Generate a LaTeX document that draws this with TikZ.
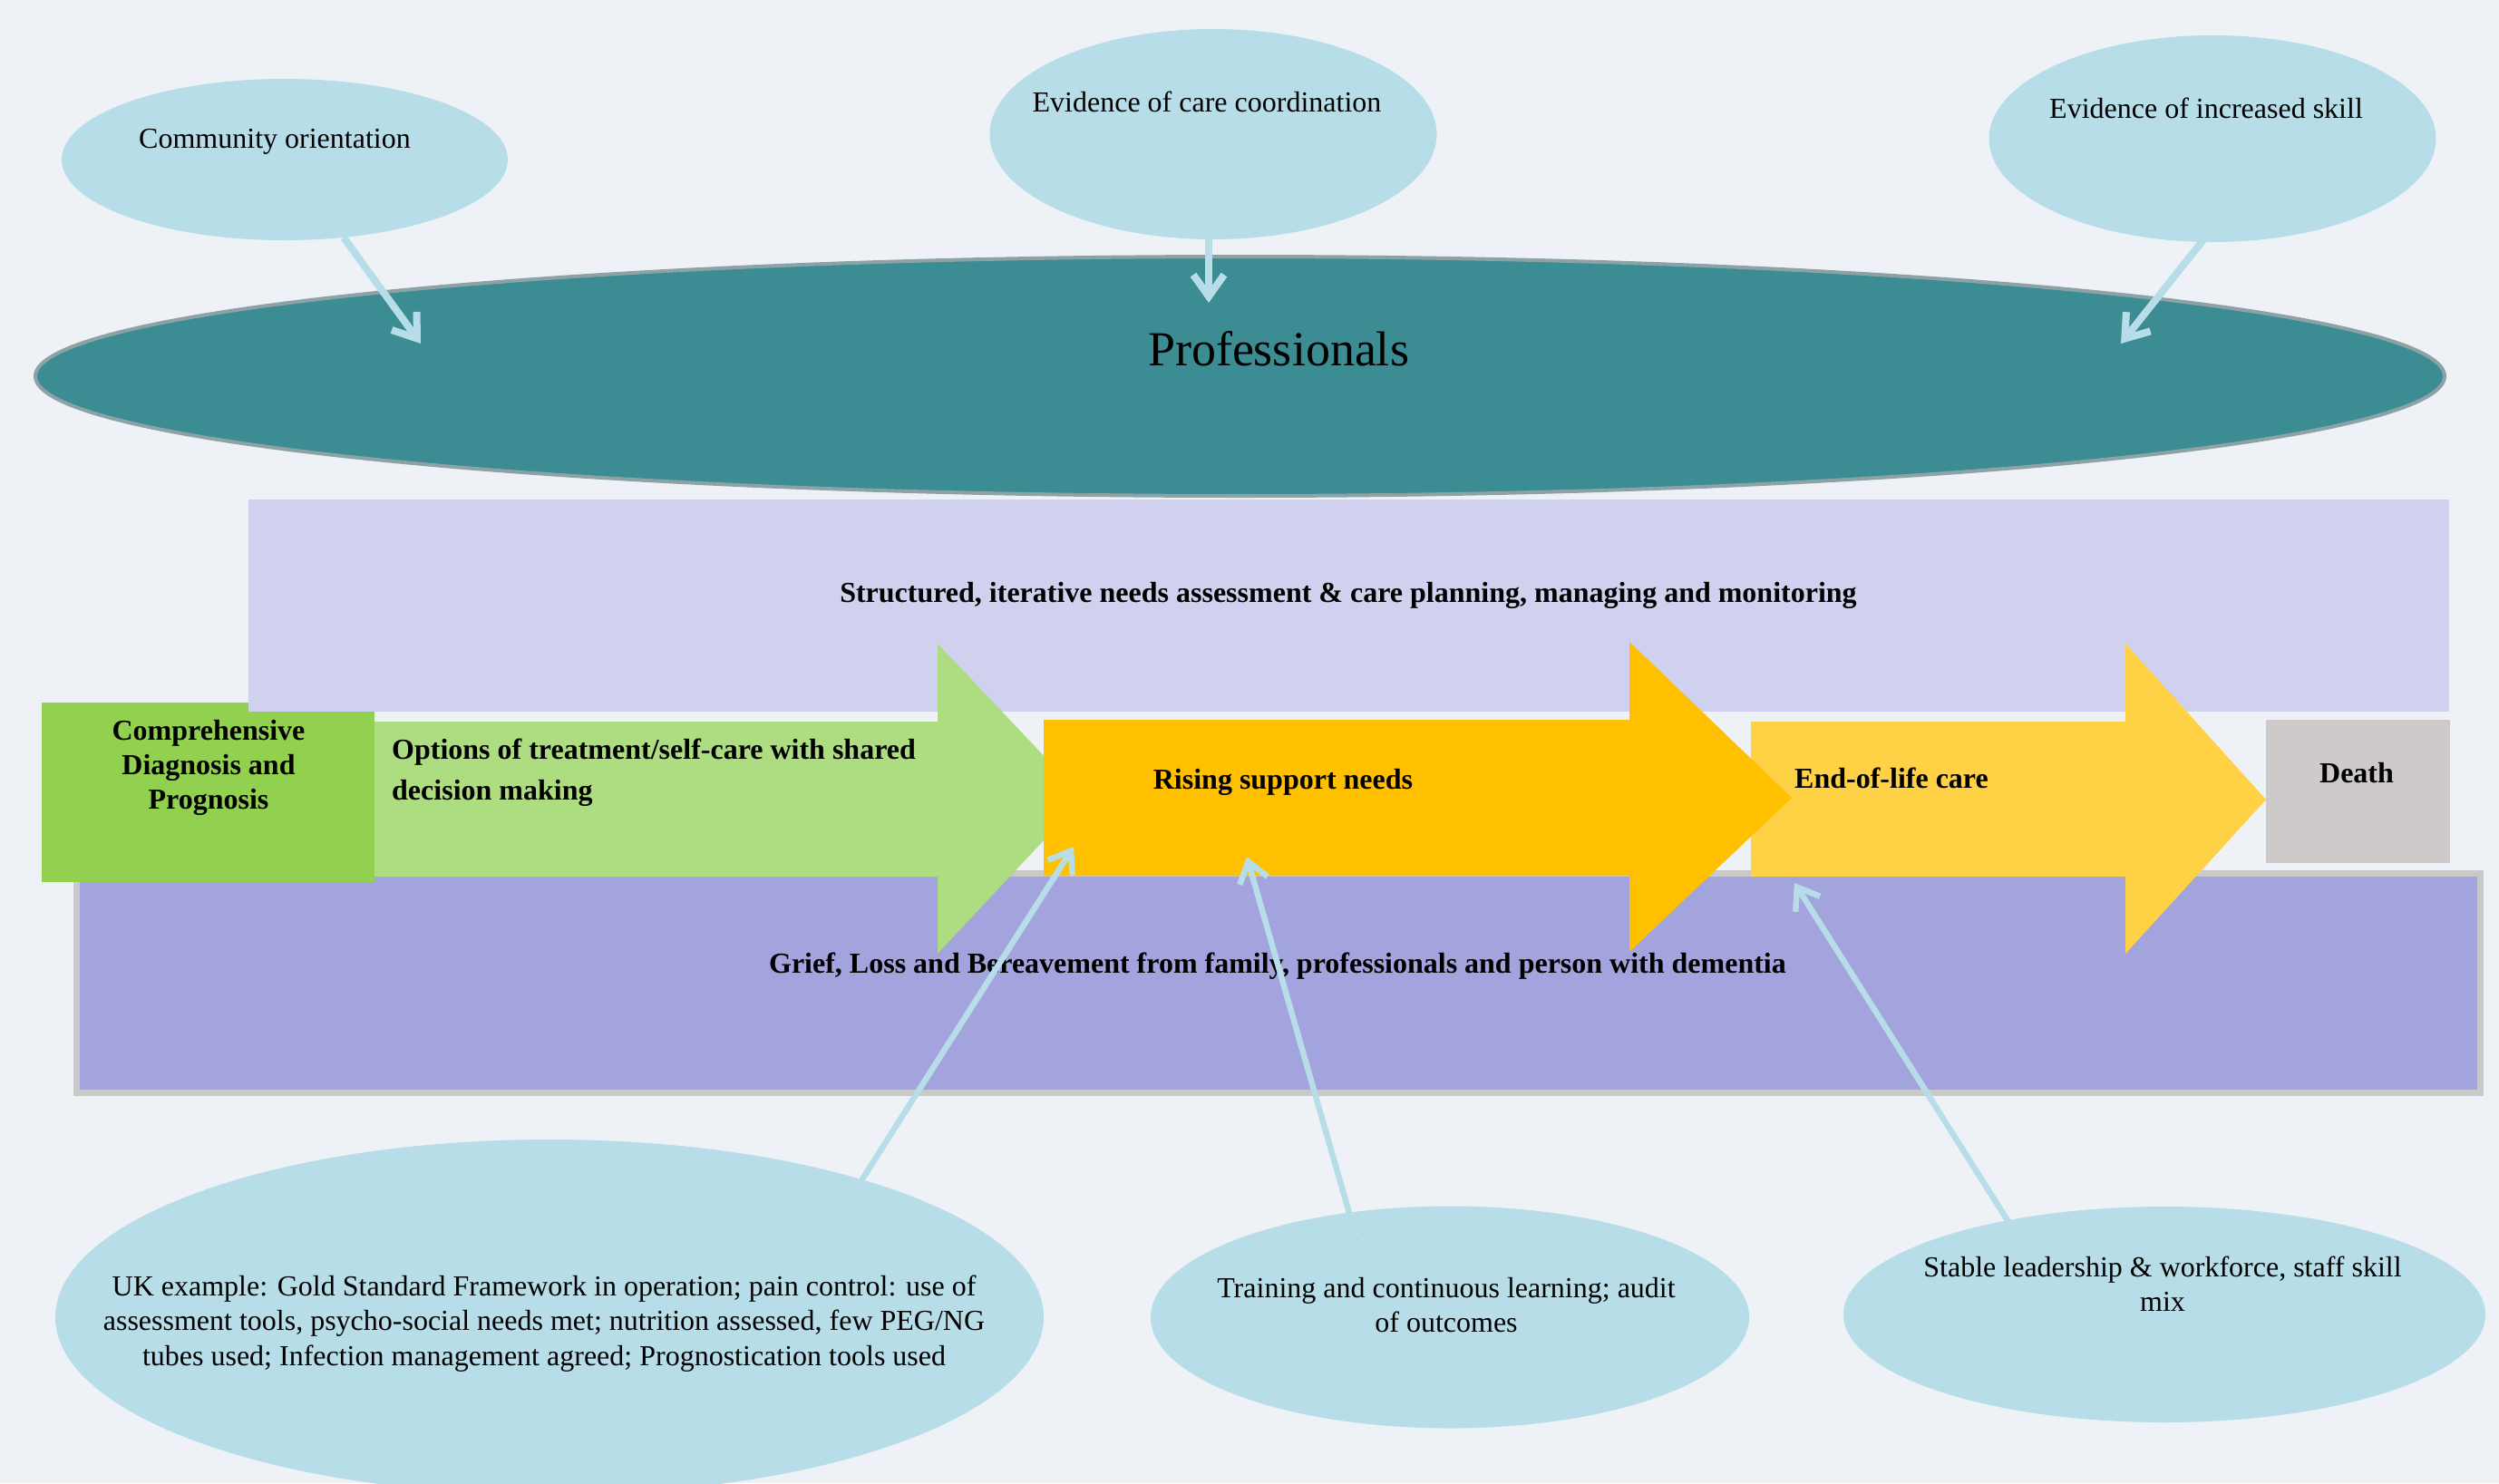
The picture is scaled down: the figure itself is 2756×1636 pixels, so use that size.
\documentclass[tikz,border=0pt]{standalone}
\usepackage{fontspec}
\setmainfont{Liberation Serif}
\usetikzlibrary{shapes.geometric,arrows.meta,calc}
\definecolor{bgc}{HTML}{EEF2F7}
\definecolor{callc}{HTML}{B7DEE8}
\definecolor{profc}{HTML}{3C8C93}
\definecolor{profb}{HTML}{8CA2A6}
\definecolor{structc}{HTML}{D0D1EE}
\definecolor{griefc}{HTML}{A3A3DD}
\definecolor{griefb}{HTML}{C9C9C9}
\definecolor{compc}{HTML}{92D050}
\definecolor{optc}{HTML}{AEDD81}
\definecolor{risec}{HTML}{FFC000}
\definecolor{eolc}{HTML}{FFD145}
\definecolor{deathc}{HTML}{CFCACA}
\begin{document}
\begin{tikzpicture}[x=1pt,y=-1pt,
  callout/.style={ellipse, fill=callc, inner sep=0pt},
  txt/.style={font=\fontsize{32}{38}\selectfont, inner sep=0pt, align=center},
  btxt/.style={font=\fontsize{32}{38}\selectfont\bfseries, inner sep=0pt, align=center},
  shadow/.style={preaction={draw=black, draw opacity=0.18, transform canvas={shift={(1.5pt,-1.5pt)}}}},
  conn/.style={shadow, draw=callc, line width=8pt, -{Straight Barb[length=24pt,width=34pt]}},
  connb/.style={shadow, draw=callc, line width=6.5pt, -{Straight Barb[length=22pt,width=32pt]}}
]
\fill[bgc] (0,0) rectangle (2756,1636);
\useasboundingbox (0,0) rectangle (2756,1636);

% Professionals
\node[ellipse, fill=profc, draw=profb, line width=4pt, minimum width=2657pt, minimum height=264pt, inner sep=0pt] (prof) at (1367.5,415) {};
\node[font=\fontsize{54}{60}\selectfont, inner sep=0pt] (proftxt) at (1410,385) {Professionals};

% top callouts
\node[callout, minimum width=492pt, minimum height=178pt] (comm) at (314,176) {};
\node[callout, minimum width=493pt, minimum height=232pt] (coord) at (1338,148) {};
\node[callout, minimum width=493pt, minimum height=228pt] (skill) at (2440,153) {};
\node[txt] (commtxt) at (303,156) {Community orientation};
\node[txt] (coordtxt) at (1331,112) {Evidence of care coordination};
\node[txt] (skilltxt) at (2433,119) {Evidence of increased skill};

% bottom callouts
\node[callout, minimum width=1090pt, minimum height=392pt] (uk) at (606,1453) {};
\node[callout, minimum width=660pt, minimum height=245pt] (train) at (1599,1453) {};
\node[callout, minimum width=708pt, minimum height=238pt] (stable) at (2387,1450) {};
\node[txt, font=\fontsize{32}{38.5}\selectfont] (uktxt) at (600,1460) {UK example: Gold Standard Framework in operation; pain control: use of\\assessment tools, psycho-social needs met; nutrition assessed, few PEG/NG\\tubes used; Infection management agreed; Prognostication tools used};
\node[txt] (traintxt) at (1595,1440) {Training and continuous learning; audit\\of outcomes};
\node[txt] (stabletxt) at (2385,1416) {Stable leadership \& workforce, staff skill\\mix};

% grief band
\node[fill=griefc, draw=griefb, line width=7pt, minimum width=2651pt, minimum height=242pt, inner sep=0pt] (grief) at (1409.5,1084.5) {};
% comprehensive box
\node[fill=compc, minimum width=367pt, minimum height=198pt, inner sep=0pt] (comp) at (229.5,874) {};
% structured band
\node[fill=structc, minimum width=2427pt, minimum height=234pt, inner sep=0pt] (struct) at (1487.5,668) {};

% process arrows
\fill[optc] (413,796) -- (1034,796) -- (1034,710) -- (1195,880) -- (1034,1052) -- (1034,967) -- (413,967) -- cycle;
\fill[eolc] (1931,796) -- (2344,796) -- (2344,710) -- (2499,882) -- (2344,1052) -- (2344,967) -- (1931,967) -- cycle;
\fill[risec] (1151,794) -- (1797,794) -- (1797,708) -- (1976,880) -- (1797,1050) -- (1797,966) -- (1151,966) -- cycle;
\node[fill=deathc, minimum width=203pt, minimum height=158pt, inner sep=0pt] (death) at (2600.5,873) {};

% texts
\node[btxt] (structtxt) at (1487,657) {Structured, iterative needs assessment \& care planning, managing and monitoring};
\node[btxt] (comptxt) at (230,847) {Comprehensive\\Diagnosis and\\Prognosis};
\node[btxt, anchor=west, align=left, font=\fontsize{32}{45}\selectfont\bfseries] (opttxt) at (432,852) {Options of treatment/self-care with shared\\decision making};
\node[btxt] (risetxt) at (1415,863) {Rising support needs};
\node[btxt] (eoltxt) at (2086,858) {End-of-life care};
\node[btxt] (deathtxt) at (2599,853) {Death};
\node[btxt] (grieftxt) at (1409,1066) {Grief, Loss and Bereavement from family, professionals and person with dementia};

% connector ends
\coordinate (t1) at (464,379);
\coordinate (t2) at (1333,334);
\coordinate (t3) at (2339,379);
\coordinate (t4) at (1184,934);
\coordinate (t5) at (1375,945);
\coordinate (t6) at (1979,974);

\draw[conn] ($(comm.center)+(65,86)$) -- (t1);
\draw[conn] ($(coord.center)+(-5,66)$) -- (t2);
\draw[conn] ($(skill.center)+(-8,109)$) -- (t3);
\draw[connb] ($(uk.center)+(334,-135)$) -- (t4);
\draw[connb] ($(train.center)+(-103,-87)$) -- (t5);
\draw[connb] ($(stable.center)+(-160,-83)$) -- (t6);
\end{tikzpicture}
\end{document}
